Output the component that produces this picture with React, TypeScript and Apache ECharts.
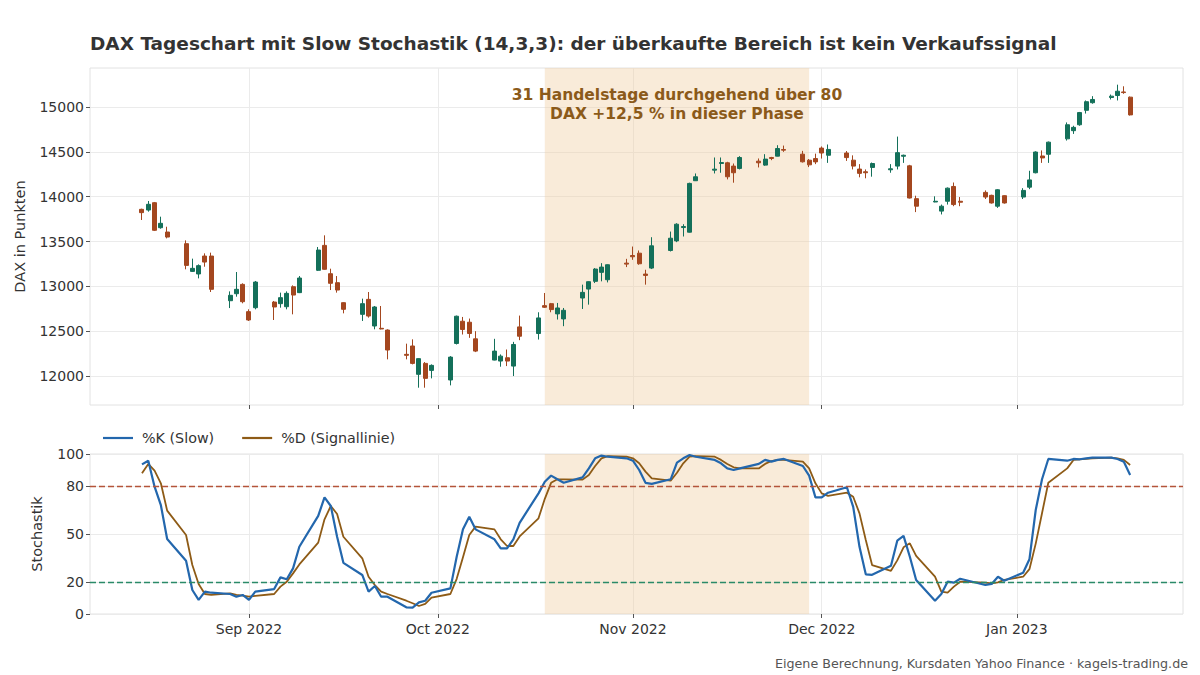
import React, { useEffect, useRef } from "react";
import * as echarts from "echarts";

// ---------- data ----------
const dates = [
  // Aug 2022
  "2022-08-15","2022-08-16","2022-08-17","2022-08-18","2022-08-19","2022-08-22","2022-08-23","2022-08-24","2022-08-25","2022-08-26","2022-08-29","2022-08-30","2022-08-31",
  // Sep 2022
  "2022-09-01","2022-09-02","2022-09-05","2022-09-06","2022-09-07","2022-09-08","2022-09-09","2022-09-12","2022-09-13","2022-09-14","2022-09-15","2022-09-16","2022-09-19","2022-09-20","2022-09-21","2022-09-22","2022-09-23","2022-09-26","2022-09-27","2022-09-28","2022-09-29","2022-09-30",
  // Oct 2022
  "2022-10-03","2022-10-04","2022-10-05","2022-10-06","2022-10-07","2022-10-10","2022-10-11","2022-10-12","2022-10-13","2022-10-14","2022-10-17","2022-10-18","2022-10-19","2022-10-20","2022-10-21","2022-10-24","2022-10-25","2022-10-26","2022-10-27","2022-10-28","2022-10-31",
  // Nov 2022
  "2022-11-01","2022-11-02","2022-11-03","2022-11-04","2022-11-07","2022-11-08","2022-11-09","2022-11-10","2022-11-11","2022-11-14","2022-11-15","2022-11-16","2022-11-17","2022-11-18","2022-11-21","2022-11-22","2022-11-23","2022-11-24","2022-11-25","2022-11-28","2022-11-29","2022-11-30",
  // Dec 2022
  "2022-12-01","2022-12-02","2022-12-05","2022-12-06","2022-12-07","2022-12-08","2022-12-09","2022-12-12","2022-12-13","2022-12-14","2022-12-15","2022-12-16","2022-12-19","2022-12-20","2022-12-21","2022-12-22","2022-12-23","2022-12-27","2022-12-28","2022-12-29","2022-12-30",
  // Jan 2023
  "2023-01-02","2023-01-03","2023-01-04","2023-01-05","2023-01-06","2023-01-09","2023-01-10","2023-01-11","2023-01-12","2023-01-13","2023-01-16","2023-01-17","2023-01-18","2023-01-19",
];

const openPrices = [
  13859,13851,13933,13654,13606,13476,13167,13138,13338,13338,12840,12918,13022,
  12718,12762,12825,12807,12773,12996,12930,13179,13457,13141,13041,12818,12688,12855,12558,12532,12513,12242,12335,12019,12141,12063,
  11956,12363,12611,12600,12415,12178,12167,12204,12111,12548,12474,12785,12807,12693,12637,12870,12970,13056,13156,13074,13259,
  13344,13370,13137,13204,13400,13507,13656,13604,14178,14296,14370,14378,14341,14315,14396,14352,14437,14452,14526,14474,14407,14425,
  14542,14462,14487,14407,14308,14278,14326,14300,14341,14451,14344,13978,13941,13839,13949,14114,13949,14048,14015,13894,14011,
  13996,14106,14267,14454,14473,14645,14736,14802,14963,15048,15106,15128,15168,15110,
];

const closePrices = [
  13822,13915,13625,13703,13550,13234,13201,13231,13271,12967,12900,12967,12829,
  12625,13048,12770,12874,12922,12903,13093,13405,13190,13034,12959,12744,12807,12669,12770,12525,12290,12231,12141,12194,11974,12119,
  12211,12667,12519,12474,12278,12278,12222,12167,12352,12444,12648,12767,12741,12759,12733,12933,13052,13193,13215,13241,13248,
  13330,13252,13122,13452,13537,13693,13667,14148,14222,14307,14381,14222,14267,14437,14378,14419,14426,14537,14519,14389,14355,14388,
  14487,14527,14436,14341,14260,14267,14370,14311,14491,14462,13985,13894,13949,13894,14095,13912,13938,13996,13930,14077,13930,
  14070,14187,14498,14432,14608,14802,14773,14938,15059,15084,15121,15176,15161,14912,
];

const lowPrices = [
  13740,13833,13617,13643,13535,13190,13160,13089,13219,12937,12758,12885,12811,
  12614,12744,12625,12762,12744,12688,12925,13171,13185,12959,12930,12699,12614,12651,12521,12520,12186,12186,12130,11870,11870,11974,
  11896,12352,12463,12426,12267,12175,12104,12111,12000,12400,12407,12759,12711,12630,12556,12748,12796,13037,13056,13044,13215,
  13296,13241,13019,13193,13389,13493,13556,13600,14175,14259,14267,14193,14156,14304,14326,14344,14407,14450,14500,14381,14330,14363,
  14425,14377,14399,14304,14216,14205,14223,14267,14304,14377,13980,13828,13938,13802,13912,13894,13894,13974,13923,13875,13923,
  13974,14084,14260,14377,14377,14626,14700,14791,14927,15037,15084,15073,15147,14905,
];

const highPrices = [
  13866,13952,13941,13777,13665,13513,13309,13245,13368,13376,12944,13160,13034,
  12744,13060,12837,12930,12944,13011,13115,13439,13569,13197,13115,12822,12863,12937,12781,12781,12521,12361,12409,12198,12156,12130,
  12222,12674,12659,12641,12500,12415,12241,12296,12381,12674,12711,12926,12815,12815,12759,13019,13056,13204,13259,13245,13307,
  13444,13400,13185,13548,13611,13704,13693,14156,14259,14437,14437,14389,14370,14452,14426,14474,14444,14574,14570,14511,14420,14480,
  14560,14582,14509,14461,14363,14304,14381,14363,14670,14469,14355,14011,14004,13912,14103,14158,13996,14070,14022,14084,14015,
  14095,14289,14506,14516,14615,14828,14791,14945,15073,15121,15139,15249,15231,15117,
];

const kSlow = [
  93.5,95.8,79.6,68,46.9,33.3,15,8.8,14,13.3,12.5,10.8,11.9,
  8.8,14,15.6,22.9,21.7,28.5,42,61.3,72.9,67.5,48.3,32,24.4,14,17.5,10.8,10.8,4.2,4,7.3,8.3,13.3,
  16,35.8,53,60.8,52.9,46.7,41,41,46.7,57,75.4,82.7,86.5,84.2,82,85.4,91,97.3,99,98.3,97.3,
  95.8,90,82,81.3,84.2,94.6,97.3,99.4,98.3,96.3,94.2,91,90,91,93.8,96.3,95.2,96.3,96.9,92.5,86.5,72.9,
  72.9,75.8,79.2,67,42,24.8,24.5,30.2,45.8,48.8,35.8,21.3,8.3,12.5,20.2,19.6,22,18.1,18.8,23.3,20.8,
  25.8,34.2,65,84.2,96.9,95.8,96.9,96.7,97.3,97.7,97.7,96.9,95.2,86.9,
];

const dSignal = [
  87.9,93.8,89.6,81.7,64.6,49.4,30.6,18.8,12.5,11.9,12.9,11.9,11.5,
  10.8,11.3,12.5,17.1,20.2,25.4,31,44.6,59.2,67.5,62.5,48.3,34.8,23.3,18.1,14,12.5,8.3,6.7,5,6.3,10.2,
  12.5,22,35.5,49.4,54.6,52.9,46.7,42.5,42.5,48.5,59.8,72,82,84.2,84.2,84,86.9,92.5,97.3,98.7,98.3,
  97.3,94.2,89,84.8,83.3,88.3,94.2,98.3,98.7,98.3,96.3,93.8,91.7,91,91,93.8,95.6,96.3,96.3,95.2,91,81.7,
  75.4,73.8,75.8,73.3,62.9,46.3,30.6,27,33.5,41.7,44.2,36.3,23.3,14,13.3,17.1,20.2,19.6,19.2,19.8,21.3,
  23.3,28,44,63,82,91,96.3,96.7,96.9,97.3,97.7,97.3,96.3,93.1,
];

const monthTicks = ["2022-09-01", "2022-10-01", "2022-11-01", "2022-12-01", "2023-01-01"];
const monthLabels = ["Sep 2022", "Oct 2022", "Nov 2022", "Dec 2022", "Jan 2023"];
const priceTicks = [12000, 12500, 13000, 13500, 14000, 14500, 15000];
const stochTicks = [0, 20, 50, 80, 100];
const overboughtLevel = 80;
const oversoldLevel = 20;
const phaseStart = "2022-10-18";
const phaseEnd = "2022-11-29";
const annotationLines = ["31 Handelstage durchgehend über 80", "DAX +12,5 % in dieser Phase"];
const seriesNames = ["%K (Slow)", "%D (Signallinie)"];
const titleText =
  "DAX Tageschart mit Slow Stochastik (14,3,3): der überkaufte Bereich ist kein Verkaufssignal";
const footerText = "Eigene Berechnung, Kursdaten Yahoo Finance · kagels-trading.de";

// ---------- helpers ----------
const ORIGIN = Date.UTC(2022, 7, 1);
function dayNum(s: string): number {
  const [y, m, d] = s.split("-").map(Number);
  return (Date.UTC(y, m - 1, d) - ORIGIN) / 86400000;
}

const FONT = "DejaVu Sans";
const X_MIN = 5.74;
const X_MAX = 179.4;
const monthVals = monthTicks.map(dayNum);

const UP = "#14705a";
const DOWN = "#a4471f";
const K_COLOR = "#2367ad";
const D_COLOR = "#8e5b16";
const GRID_LINE = "#ebebeb";
const TICK_FONT = 14;

function xAxis(gridIndex: number, showLabels: boolean) {
  return {
    type: "value",
    gridIndex,
    min: X_MIN,
    max: X_MAX,
    axisLine: { show: false },
    axisTick: {
      show: true,
      customValues: monthVals,
      length: 4,
      lineStyle: { color: "#555", width: 1 },
    },
    axisLabel: {
      show: showLabels,
      customValues: monthVals,
      formatter: (v: number) => {
        const i = monthVals.findIndex((m) => Math.abs(m - v) < 0.01);
        return i >= 0 ? monthLabels[i] : "";
      },
      fontFamily: FONT,
      fontSize: TICK_FONT,
      color: "#333",
      margin: 8,
    },
    splitLine: { show: true, lineStyle: { color: GRID_LINE, width: 1 } },
  };
}

function buildOption() {
  const candleData = dates.map((d, i) => [
    dayNum(d),
    openPrices[i],
    closePrices[i],
    lowPrices[i],
    highPrices[i],
  ]);
  const kData = dates.map((d, i) => [dayNum(d), kSlow[i]]);
  const dData = dates.map((d, i) => [dayNum(d), dSignal[i]]);
  const shade = "rgba(240,205,160,0.4)";
  const phase = [[{ xAxis: dayNum(phaseStart) }, { xAxis: dayNum(phaseEnd) }]];

  return {
    animation: false,
    backgroundColor: "#ffffff",
    title: [
      {
        text: titleText,
        left: 90,
        top: 34,
        padding: 0,
        textStyle: { fontFamily: FONT, fontSize: 18.5, fontWeight: "bold", color: "#333" },
      },
      {
        text: footerText,
        right: 12,
        bottom: 5,
        padding: 0,
        textStyle: { fontFamily: FONT, fontSize: 12.7, fontWeight: "normal", color: "#555" },
      },
    ],
    legend: {
      data: seriesNames.map((n) => ({ name: n, icon: "rect" })),
      left: 103,
      top: 431,
      padding: 0,
      itemWidth: 30,
      itemHeight: 2.2,
      itemGap: 28,
      textStyle: { fontFamily: FONT, fontSize: 14.3, color: "#333", padding: [0, 0, 0, 4] },
    },
    grid: [
      { left: 90, right: 17, top: 68, height: 337, show: true, borderColor: "#e2e2e2", borderWidth: 1, backgroundColor: "transparent" },
      { left: 90, right: 17, top: 454, height: 160, show: true, borderColor: "#e2e2e2", borderWidth: 1, backgroundColor: "transparent" },
    ],
    xAxis: [xAxis(0, false), xAxis(1, true)],
    yAxis: [
      {
        type: "value",
        gridIndex: 0,
        min: 11677,
        max: 15435,
        axisLine: { show: false },
        axisTick: { show: true, customValues: priceTicks, length: 4, lineStyle: { color: "#555" } },
        axisLabel: {
          customValues: priceTicks,
          formatter: (v: number) => String(v),
          fontFamily: FONT,
          fontSize: TICK_FONT,
          color: "#333",
          margin: 6,
        },
        splitLine: { show: true, lineStyle: { color: GRID_LINE, width: 1 } },
        name: "DAX in Punkten",
        nameLocation: "middle",
        nameGap: 63,
        nameTextStyle: { fontFamily: FONT, fontSize: 14.5, color: "#333" },
      },
      {
        type: "value",
        gridIndex: 1,
        min: 0,
        max: 100,
        axisLine: { show: false },
        axisTick: { show: true, customValues: stochTicks, length: 4, lineStyle: { color: "#555" } },
        axisLabel: {
          customValues: stochTicks,
          formatter: (v: number) => String(v),
          fontFamily: FONT,
          fontSize: TICK_FONT,
          color: "#333",
          margin: 6,
        },
        splitLine: { show: true, lineStyle: { color: GRID_LINE, width: 1 } },
        name: "Stochastik",
        nameLocation: "middle",
        nameGap: 46,
        nameTextStyle: { fontFamily: FONT, fontSize: 14.5, color: "#333" },
      },
    ],
    series: [
      {
        type: "candlestick",
        name: "DAX",
        xAxisIndex: 0,
        yAxisIndex: 0,
        barWidth: 4.5,
        data: candleData,
        itemStyle: {
          color: UP,
          color0: DOWN,
          borderColor: UP,
          borderColor0: DOWN,
          borderWidth: 1,
        },
        markArea: {
          silent: true,
          itemStyle: { color: shade },
          label: {
            show: true,
            position: "insideTop",
            distance: 17,
            formatter: annotationLines.join("\n"),
            fontFamily: FONT,
            fontSize: 15.5,
            fontWeight: "bold",
            color: "#8b5a1a",
            lineHeight: 19,
            align: "center",
          },
          data: phase,
        },
      },
      {
        type: "line",
        name: seriesNames[0],
        xAxisIndex: 1,
        yAxisIndex: 1,
        data: kData,
        symbol: "none",
        showSymbol: false,
        z: 4,
        lineStyle: { color: K_COLOR, width: 2.2 },
        itemStyle: { color: K_COLOR },
        markArea: {
          silent: true,
          itemStyle: { color: shade },
          data: phase,
        },
        markLine: {
          silent: true,
          symbol: ["none", "none"],
          label: { show: false },
          data: [
            { yAxis: overboughtLevel, lineStyle: { color: "#b4543a", type: [6, 3], width: 1.3 } },
            { yAxis: oversoldLevel, lineStyle: { color: "#2a8a68", type: [6, 3], width: 1.3 } },
          ],
        },
      },
      {
        type: "line",
        name: seriesNames[1],
        xAxisIndex: 1,
        yAxisIndex: 1,
        data: dData,
        symbol: "none",
        showSymbol: false,
        z: 3,
        lineStyle: { color: D_COLOR, width: 1.8 },
        itemStyle: { color: D_COLOR },
      },
    ],
  };
}

export default function App() {
  const ref = useRef<HTMLDivElement>(null);
  useEffect(() => {
    if (!ref.current) return;
    const chart = echarts.init(ref.current, null, { renderer: "svg" });
    chart.setOption(buildOption() as any);
    return () => chart.dispose();
  }, []);
  return (
    <div
      ref={ref}
      style={{ position: "fixed", left: 0, top: 0, width: 1200, height: 675, background: "#fff" }}
    />
  );
}
